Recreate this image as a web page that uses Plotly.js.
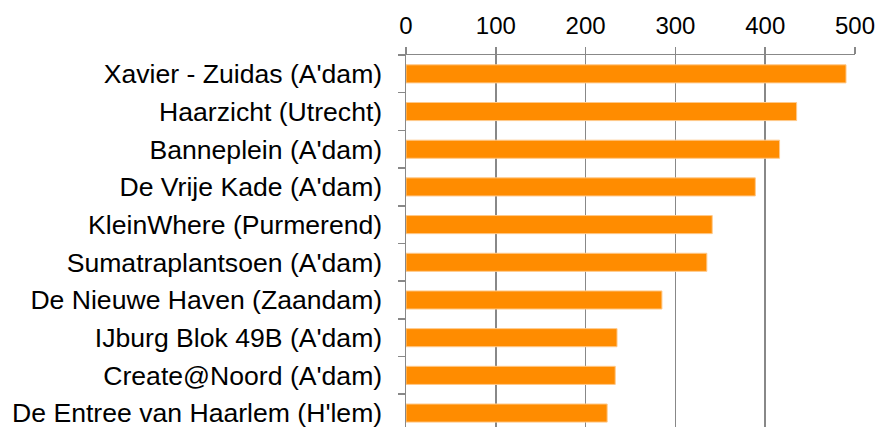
<!DOCTYPE html>
<html>
<head>
<meta charset="utf-8">
<script src="https://cdn.plot.ly/plotly-3.0.1.min.js"></script>
<style>html,body{margin:0;padding:0;overflow:hidden;background:#fff;}</style>
</head>
<body>
<div id="chart" style="width:881px;height:427px;"></div>
<script>
// categories listed bottom to top
var categories = [
  "De Entree van Haarlem (H'lem)",
  "Create@Noord (A'dam)",
  "IJburg Blok 49B (A'dam)",
  "De Nieuwe Haven (Zaandam)",
  "Sumatraplantsoen (A'dam)",
  "KleinWhere (Purmerend)",
  "De Vrije Kade (A'dam)",
  "Banneplein (A'dam)",
  "Haarzicht (Utrecht)",
  "Xavier - Zuidas (A'dam)"
];
var values = [224, 233, 235, 285, 335, 341, 389, 416, 435, 490];
var xTicks = [0, 100, 200, 300, 400, 500];

var trace = {
  type: 'bar',
  orientation: 'h',
  x: values,
  y: categories,
  marker: {color: '#FF8C00', line: {color: '#FFC98A', width: 1}},
  hoverinfo: 'x+y'
};

var layout = {
  width: 881,
  height: 427,
  margin: {l: 406, r: 26, t: 55, b: 0, pad: 0},
  paper_bgcolor: '#fff',
  plot_bgcolor: '#fff',
  bargap: 0.52,
  showlegend: false,
  font: {family: 'Liberation Sans, Arial, sans-serif', color: '#000'},
  xaxis: {
    side: 'top',
    range: [0, 500],
    tickvals: xTicks,
    ticktext: xTicks.map(String),
    ticks: 'outside',
    ticklen: 7,
    tickwidth: 1.5,
    tickcolor: '#888',
    showline: true,
    linecolor: '#888',
    linewidth: 1.5,
    showgrid: true,
    gridcolor: '#888',
    gridwidth: 1.5,
    zeroline: false,
    ticklabelstandoff: 3,
    tickfont: {size: 24, color: '#000'},
    fixedrange: true
  },
  yaxis: {
    type: 'category',
    categoryorder: 'array',
    categoryarray: categories,
    range: [-0.37, 9.5],
    tickson: 'boundaries',
    ticks: 'outside',
    ticklen: 7,
    tickwidth: 1.5,
    tickcolor: '#888',
    showline: true,
    linecolor: '#888',
    linewidth: 1.5,
    showgrid: false,
    zeroline: false,
    ticklabelstandoff: 17,
    tickfont: {size: 26.6, color: '#000'},
    fixedrange: true
  }
};

Plotly.newPlot('chart', [trace], layout, {displayModeBar: false, staticPlot: true});
</script>
</body>
</html>
